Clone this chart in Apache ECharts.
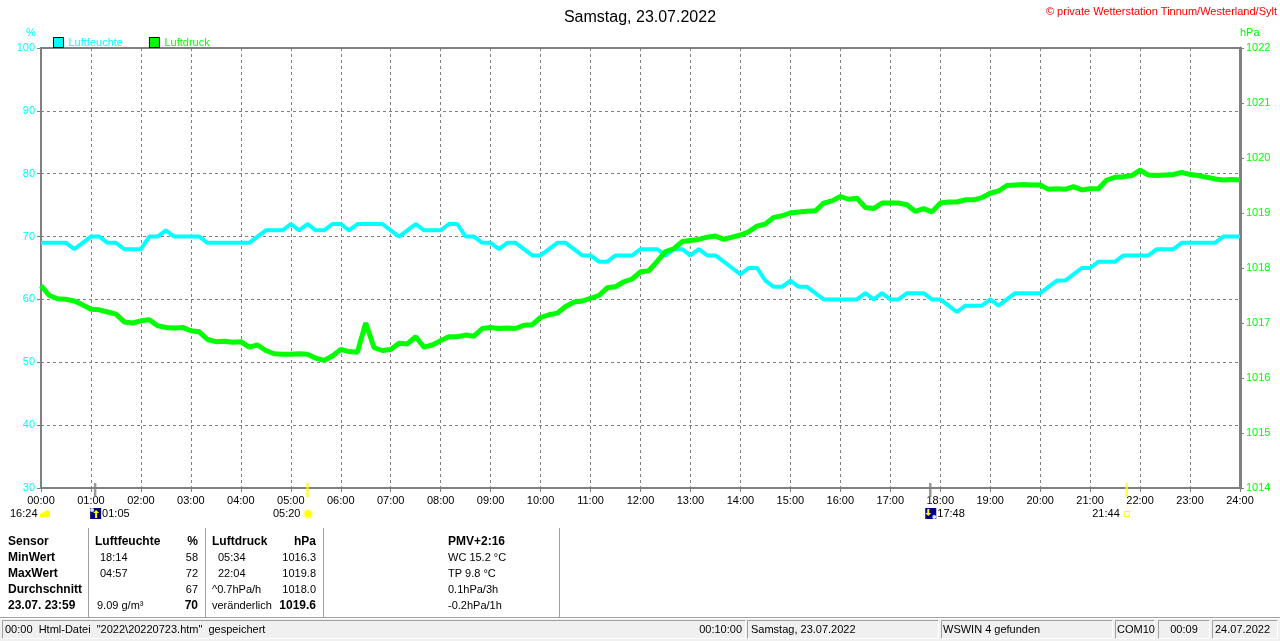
<!DOCTYPE html>
<html>
<head>
<meta charset="utf-8">
<title>Samstag, 23.07.2022</title>
<script src="https://cdn.jsdelivr.net/npm/echarts@6/dist/echarts.min.js"></script>
<style>
html, body { margin: 0; padding: 0; background: #fff; }
#chart { width: 1280px; height: 641px; }
</style>
</head>
<body>
<div id="chart"></div>
<script>
// 10-minute samples, 00:00 .. 24:00 (145 values)
var stepMinutes = 10;

// Luftfeuchte in %
var humidity = [
  69,69,69,69,68,69,  70,70,69,69,68,68,  68,70,70,71,70,70,  70,70,69,69,69,69,
  69,69,70,71,71,71,  72,71,72,71,71,72,  72,71,72,72,72,72,  71,70,71,72,71,71,
  71,72,72,70,70,69,  69,68,69,69,68,67,  67,68,69,69,68,67,  67,66,66,67,67,67,
  68,68,68,67,68,68,  67,68,67,67,66,65,  64,65,65,63,62,62,  63,62,62,61,60,60,
  60,60,60,61,60,61,  60,60,61,61,61,60,  60,59,58,59,59,59,  60,59,60,61,61,61,
  61,62,63,63,64,65,  65,66,66,66,67,67,  67,67,68,68,68,69,  69,69,69,69,70,70,
  70
];

// Luftdruck in hPa
var pressure = [
  1017.68,1017.50,1017.44,1017.43,1017.40,1017.33,  1017.25,1017.24,1017.20,1017.16,1017.02,1017.00,
  1017.04,1017.06,1016.95,1016.92,1016.91,1016.92,  1016.86,1016.84,1016.70,1016.66,1016.67,1016.65,
  1016.66,1016.56,1016.60,1016.50,1016.44,1016.43,  1016.43,1016.44,1016.43,1016.36,1016.32,1016.40,
  1016.52,1016.48,1016.47,1017.00,1016.55,1016.50,  1016.52,1016.63,1016.62,1016.75,1016.56,1016.60,
  1016.68,1016.75,1016.75,1016.78,1016.76,1016.90,  1016.92,1016.90,1016.91,1016.90,1016.96,1016.97,
  1017.10,1017.15,1017.18,1017.30,1017.38,1017.40,  1017.45,1017.50,1017.64,1017.66,1017.75,1017.80,
  1017.93,1017.95,1018.12,1018.30,1018.35,1018.48,  1018.50,1018.52,1018.56,1018.58,1018.52,1018.56,
  1018.60,1018.66,1018.76,1018.80,1018.92,1018.95,  1019.00,1019.02,1019.03,1019.04,1019.18,1019.22,
  1019.30,1019.25,1019.27,1019.10,1019.08,1019.18,  1019.18,1019.18,1019.15,1019.03,1019.08,1019.02,
  1019.18,1019.20,1019.20,1019.24,1019.24,1019.28,  1019.36,1019.40,1019.50,1019.51,1019.52,1019.51,
  1019.51,1019.43,1019.44,1019.43,1019.48,1019.42,  1019.44,1019.44,1019.60,1019.65,1019.66,1019.68,
  1019.78,1019.69,1019.68,1019.69,1019.70,1019.74,  1019.70,1019.68,1019.65,1019.62,1019.60,1019.61,
  1019.60
];

// Mond / Sonne auf der Zeitachse
var eventTimes = ['01:05', '05:20', '17:48', '21:44'];
var eventKinds = ['moonrise', 'sunrise', 'moonset', 'sunset'];

// Tabelle unter dem Diagramm
var rowLabels = ['Sensor', 'MinWert', 'MaxWert', 'Durchschnitt', '23.07. 23:59'];
var humTimes = ['18:14', '04:57', '', '9.09 g/m\u00b3'];
var humValues = ['58', '72', '67', '70'];
var presTimes = ['05:34', '22:04', '^0.7hPa/h', 'ver\u00e4nderlich'];
var presValues = ['1016.3', '1019.8', '1018.0', '1019.6'];
var pmvLines = ['PMV+2:16', 'WC 15.2 \u00b0C', 'TP 9.8 \u00b0C', '0.1hPa/3h', '-0.2hPa/1h'];

// Statuszeile
var statusTexts = ['00:00  Html-Datei  "2022\\20220723.htm"  gespeichert', '00:10:00',
  'Samstag, 23.07.2022', 'WSWIN 4 gefunden', 'COM10', '00:09', '24.07.2022'];

var CYAN = '#00ffff', GREEN = '#00ff00', GRID = '#808080';
var FONT = '"Liberation Sans", Arial, sans-serif';

function pairs(arr) {
  return arr.map(function (v, i) { return [i * stepMinutes, v]; });
}
function toMin(s) {
  var p = s.split(':');
  return (+p[0]) * 60 + (+p[1]);
}
function hourLabel(m) {
  var h = Math.round(m / 60);
  return (h < 10 ? '0' : '') + h + ':00';
}

var chart = echarts.init(document.getElementById('chart'));

var option = {
  animation: false,
  textStyle: { fontFamily: FONT },
  title: {
    text: 'Samstag, 23.07.2022',
    left: 'center',
    top: 5,
    textStyle: { fontSize: 16, fontWeight: 'normal', color: '#000', fontFamily: FONT }
  },
  legend: {
    left: 48,
    top: 32,
    icon: 'rect',
    itemWidth: 10,
    itemHeight: 10,
    itemGap: 26,
    itemStyle: { borderColor: '#000', borderWidth: 1 },
    textStyle: { fontSize: 11, fontFamily: FONT },
    data: [
      { name: 'Luftfeuchte', textStyle: { color: CYAN } },
      { name: 'Luftdruck', textStyle: { color: GREEN } }
    ]
  },
  grid: {
    left: 41, right: 40, top: 48, bottom: 153,
    show: true, borderColor: GRID, borderWidth: 2
  },
  xAxis: {
    type: 'value',
    min: 0, max: 1440, interval: 60,
    axisLine: { lineStyle: { color: GRID, width: 2 } },
    axisTick: { length: 4, lineStyle: { color: GRID } },
    axisLabel: { formatter: hourLabel, color: '#000', fontSize: 11, margin: 7, fontFamily: FONT },
    splitLine: { show: true, lineStyle: { color: GRID, type: [3, 3], width: 1 } }
  },
  yAxis: [
    {
      type: 'value', position: 'left',
      min: 30, max: 100, interval: 10,
      axisLine: { show: true, lineStyle: { color: GRID, width: 2 } },
      axisTick: { show: true, length: 4, lineStyle: { color: GRID } },
      axisLabel: { color: CYAN, fontSize: 11, margin: 6, fontFamily: FONT },
      splitLine: { show: true, lineStyle: { color: GRID, type: [3, 3], width: 1 } }
    },
    {
      type: 'value', position: 'right',
      min: 1014, max: 1022, interval: 1,
      axisLine: { show: true, lineStyle: { color: GRID, width: 3 } },
      axisTick: { show: true, length: 4, lineStyle: { color: GRID } },
      axisLabel: {
        color: GREEN, fontSize: 11, margin: 6, fontFamily: FONT,
        formatter: function (v) { return String(v); }
      },
      splitLine: { show: false }
    }
  ],
  series: [
    {
      name: 'Luftfeuchte', type: 'line', yAxisIndex: 0,
      data: pairs(humidity), showSymbol: false, symbol: 'none',
      lineStyle: { color: CYAN, width: 4 }, itemStyle: { color: CYAN }
    },
    {
      name: 'Luftdruck', type: 'line', yAxisIndex: 1,
      data: pairs(pressure), showSymbol: false, symbol: 'none',
      lineStyle: { color: GREEN, width: 5 }, itemStyle: { color: GREEN }
    },
    {
      name: 'Ereignisse', type: 'scatter', yAxisIndex: 0, clip: false, z: 5,
      symbol: 'rect', symbolSize: [2.5, 14], symbolOffset: [0, 2],
      data: eventTimes.map(function (t, i) {
        var moon = eventKinds[i].indexOf('moon') === 0;
        return { value: [toMin(t), 30], itemStyle: { color: moon ? GRID : '#ffff00' } };
      }),
      silent: true
    }
  ]
};

chart.setOption(option);

// --- Beschriftungen unter der Zeitachse, Tabelle, Statuszeile ---
var g = [];
function txt(x, y, s, opt) {
  opt = opt || {};
  g.push({
    type: 'text', silent: true, z: 10,
    style: {
      text: s, x: x, y: y,
      font: (opt.bold ? 'bold 12px ' : (opt.size || 11) + 'px ') + FONT,
      fill: opt.color || '#000',
      textAlign: opt.align || 'left', align: opt.align || 'left',
      textVerticalAlign: 'middle', verticalAlign: 'middle'
    }
  });
}
function rect(x, y, w, h, fill, stroke) {
  g.push({
    type: 'rect', silent: true, z: 9,
    shape: { x: x, y: y, width: w, height: h },
    style: { fill: fill || 'none', stroke: stroke || null, lineWidth: 1 }
  });
}
function line(x1, y1, x2, y2, color, w) {
  g.push({
    type: 'line', silent: true, z: 9,
    shape: { x1: x1, y1: y1, x2: x2, y2: y2 },
    style: { stroke: color, lineWidth: w || 1 }
  });
}
function circle(cx, cy, r, fill) {
  g.push({ type: 'circle', silent: true, z: 10, shape: { cx: cx, cy: cy, r: r }, style: { fill: fill } });
}
function arrow(cx, top, bottom, up) {
  var tip = up ? top : bottom, base = up ? top + 3 : bottom - 3;
  g.push({ type: 'polygon', silent: true, z: 11,
    shape: { points: [[cx - 3, base], [cx + 3, base], [cx, tip]] }, style: { fill: '#ffff00' } });
  line(cx, up ? base : top, cx, up ? bottom : base, '#ffff00', 2);
}

// axis titles
txt(26, 33, '%', { color: CYAN });
txt(1240, 33, 'hPa', { color: GREEN });
txt(1277, 12, '\u00a9 private Wetterstation Tinnum/Westerland/Sylt', { color: '#ff0000', align: 'right' });

// previous moon phase marker at the left edge
var labelY = 514;
txt(10, labelY, '16:24');
circle(43, 515, 2.6, '#ffff00');
circle(47, 513.5, 3, '#ffff00');
rect(40, 514, 10, 3, '#ffff00');

eventTimes.forEach(function (t, i) {
  var px = chart.convertToPixel({ xAxisIndex: 0 }, toMin(t));
  var kind = eventKinds[i];
  if (kind === 'moonrise' || kind === 'moonset') {
    rect(px - 5, labelY - 6, 11, 11, '#000080');
    if (kind === 'moonrise') {
      circle(px - 3, labelY - 4, 2, '#e0e0ff');
      arrow(px + 1, labelY - 4, labelY + 4, true);
    } else {
      circle(px + 4, labelY + 3, 2, '#e0e0ff');
      arrow(px - 2, labelY - 5, labelY + 2, false);
    }
    txt(px + 7, labelY, t);
  } else if (kind === 'sunrise') {
    circle(px + 0.5, labelY, 5.5, '#ffffb0');
    circle(px + 0.5, labelY, 3.5, '#ffff00');
    txt(px - 7, labelY, t, { align: 'right' });
  } else {
    rect(px - 2.5, labelY - 2.5, 5, 5, null, '#ffff00');
    txt(px - 7, labelY, t, { align: 'right' });
  }
});

// table
var rowY = [541.5, 557.5, 573.5, 589.5, 605.5];
[88, 205, 323, 559].forEach(function (x) { line(x + 0.5, 528, x + 0.5, 617, '#a0a0a0', 1); });
rowLabels.forEach(function (s, i) { txt(8, rowY[i], s, { bold: true }); });
txt(95, rowY[0], 'Luftfeuchte', { bold: true });
txt(198, rowY[0], '%', { bold: true, align: 'right' });
txt(212, rowY[0], 'Luftdruck', { bold: true });
txt(316, rowY[0], 'hPa', { bold: true, align: 'right' });
humTimes.forEach(function (s, i) {
  txt(i === 3 ? 97 : 100, rowY[i + 1], s);
  txt(198, rowY[i + 1], humValues[i], { align: 'right', bold: i === 3 });
});
presTimes.forEach(function (s, i) {
  txt(i < 2 ? 218 : 212, rowY[i + 1], s);
  txt(316, rowY[i + 1], presValues[i], { align: 'right', bold: i === 3 });
});
pmvLines.forEach(function (s, i) { txt(448, rowY[i], s, { bold: i === 0 }); });

// status bar
rect(0, 617, 1280, 24, '#f0f0f0');
line(0, 617.5, 1280, 617.5, '#a0a0a0', 1);
line(0, 618.5, 1280, 618.5, '#ffffff', 1);
var panels = [[2, 745], [747, 938], [941, 1112], [1115, 1154], [1158, 1209], [1212, 1277]];
panels.forEach(function (p) {
  line(p[0] + 0.5, 620.5, p[1] + 0.5, 620.5, '#a0a0a0', 1);
  line(p[0] + 0.5, 620.5, p[0] + 0.5, 638.5, '#a0a0a0', 1);
  line(p[0] + 0.5, 638.5, p[1] + 0.5, 638.5, '#ffffff', 1);
  line(p[1] + 0.5, 620.5, p[1] + 0.5, 638.5, '#ffffff', 1);
});
var statusY = 629.5;
txt(5, statusY, statusTexts[0]);
txt(742, statusY, statusTexts[1], { align: 'right' });
txt(751, statusY, statusTexts[2]);
txt(943, statusY, statusTexts[3]);
txt(1117, statusY, statusTexts[4]);
txt(1184, statusY, statusTexts[5], { align: 'center' });
txt(1215, statusY, statusTexts[6]);

chart.setOption({ graphic: g });
</script>
</body>
</html>
